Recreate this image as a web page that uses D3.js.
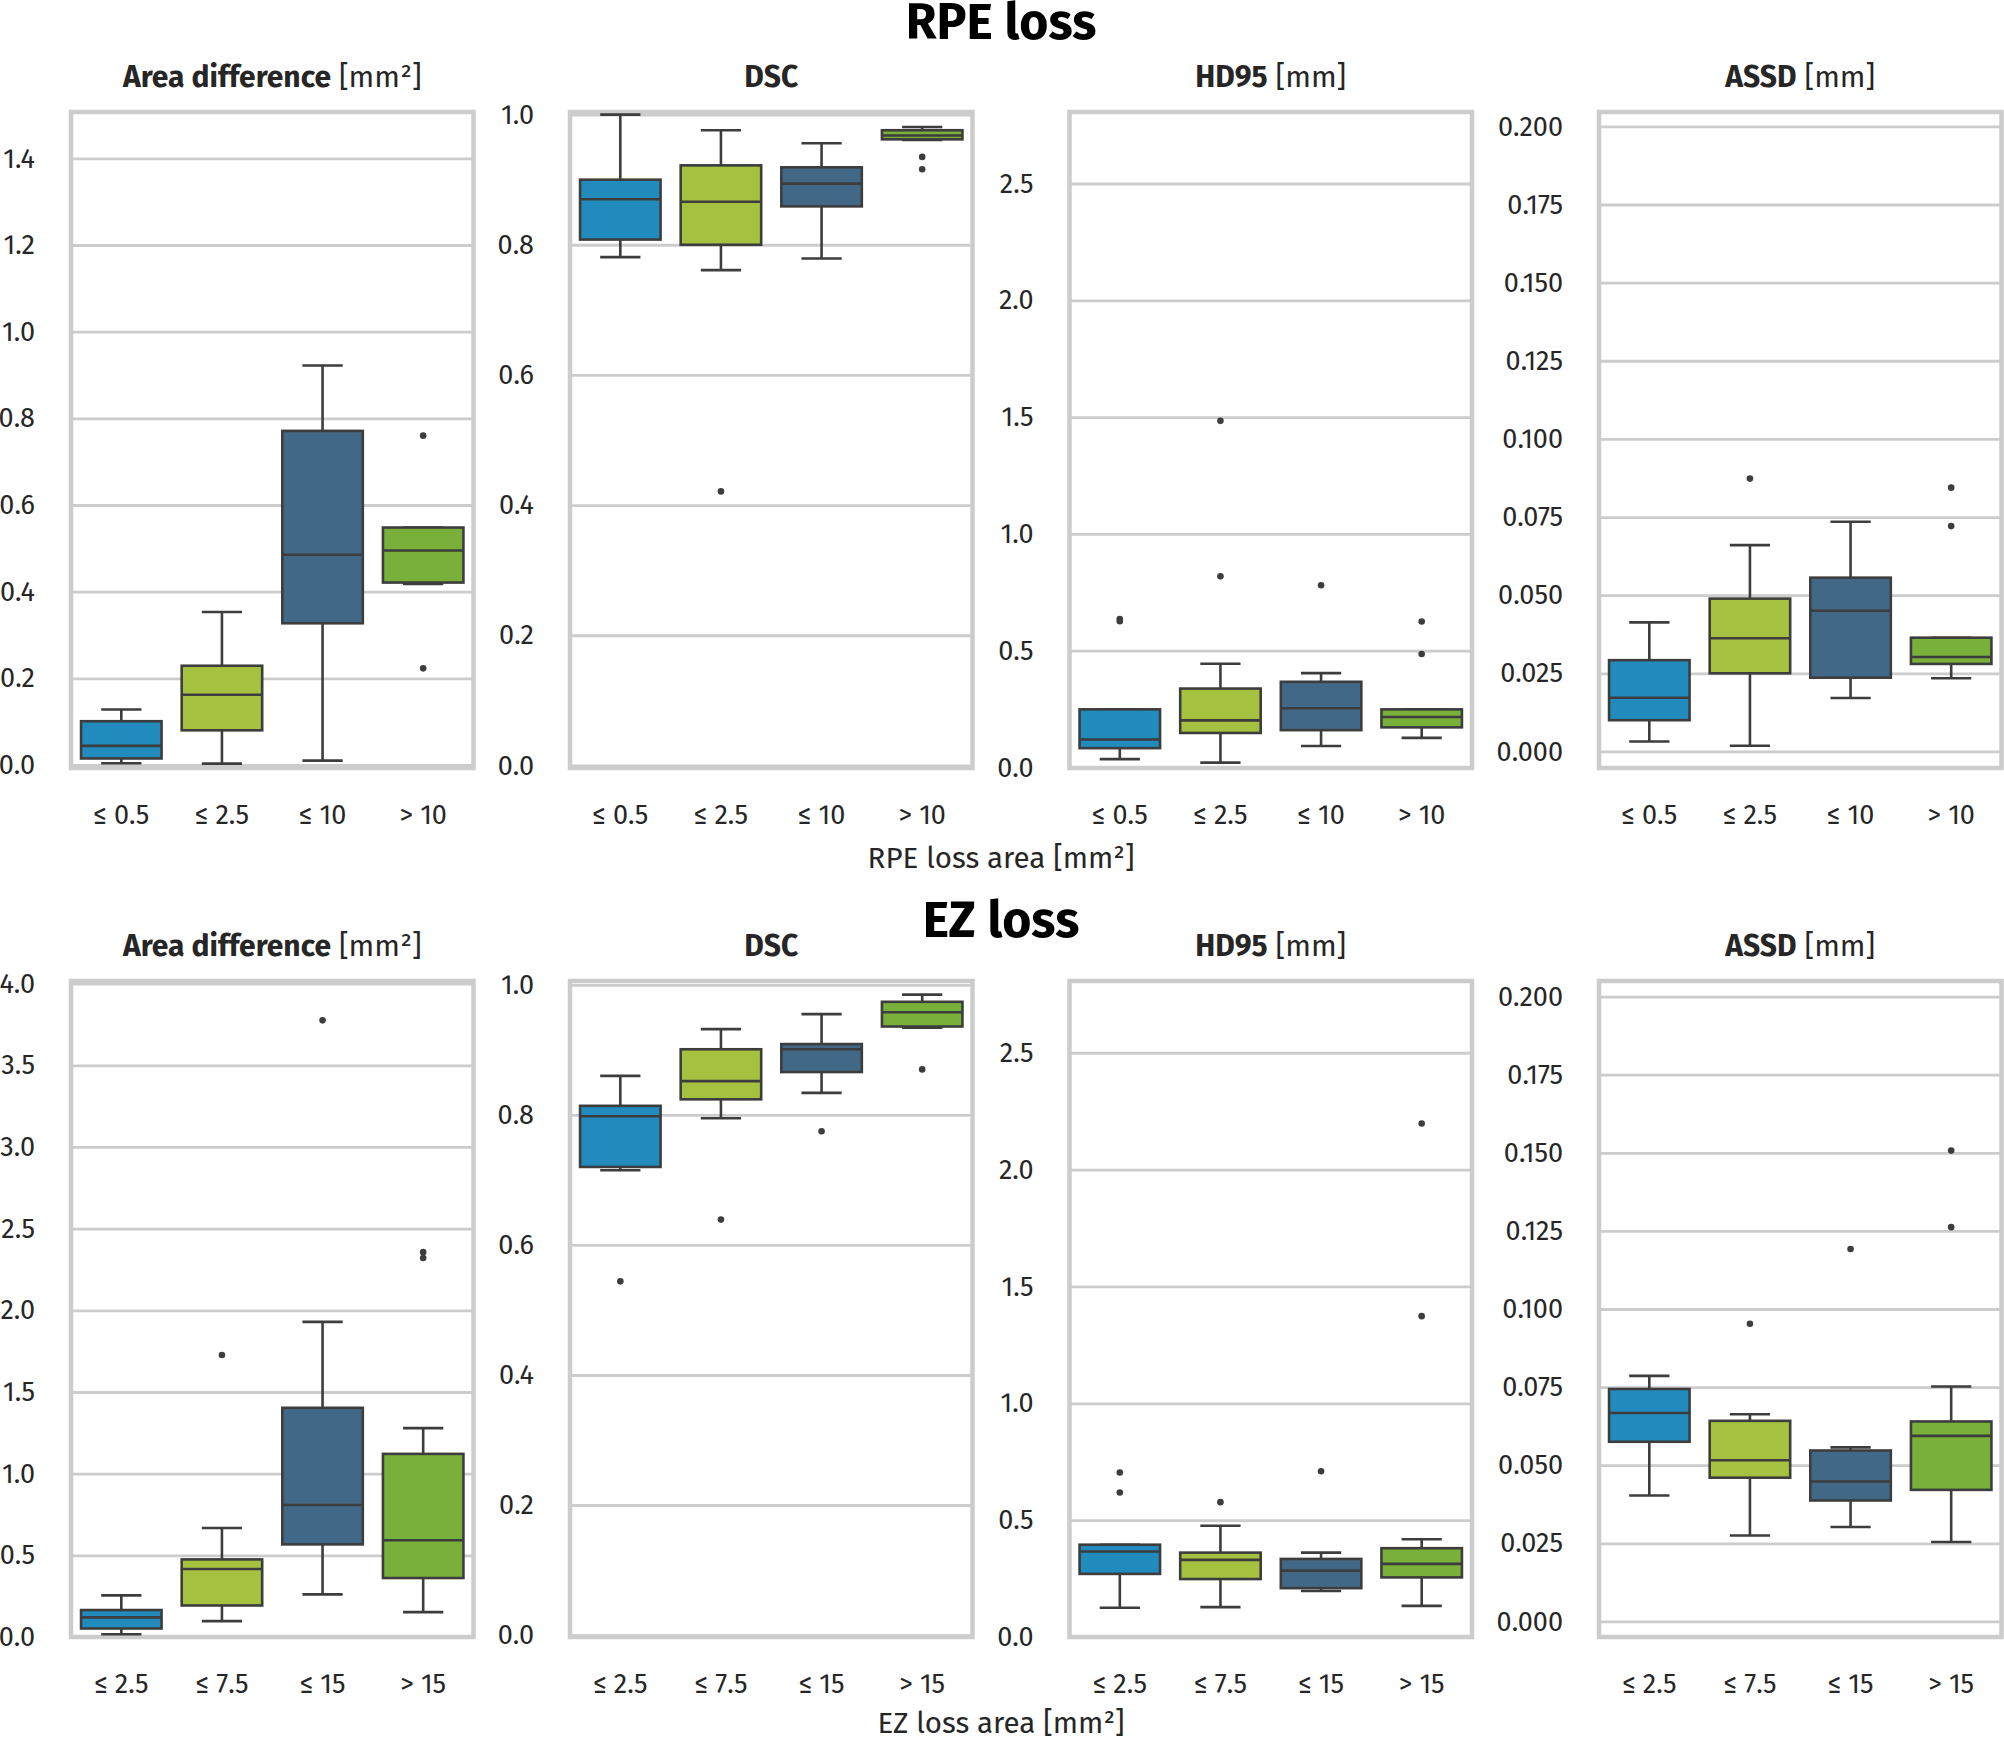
<!DOCTYPE html>
<html>
<head>
<meta charset="utf-8">
<script src="https://cdn.jsdelivr.net/npm/d3@7"></script>
<style>
  body { margin: 0; background: #fff; }
  text { font-family: "Fira Sans", "Lato", "Open Sans", sans-serif; fill: #262626; }
</style>
</head>
<body>
<svg id="chart"></svg>
<script>
// ---- data ----
var rpeGroups = ["≤ 0.5", "≤ 2.5", "≤ 10", "> 10"];
var ezGroups = ["≤ 2.5", "≤ 7.5", "≤ 15", "> 15"];
var rowTitles = ["RPE loss", "EZ loss"];
var rowXLabels = ["RPE loss area [mm²]", "EZ loss area [mm²]"];
var metricBold = ["Area difference", "DSC", "HD95", "ASSD"];
var metricUnit = [" [mm²]", "", " [mm]", " [mm]"];

// boxes: [lower whisker, q1, median, q3, upper whisker]
var rpeArea = [[0.004, 0.015, 0.044, 0.101, 0.128], [0.003, 0.080, 0.162, 0.229, 0.353], [0.010, 0.327, 0.485, 0.771, 0.922], [0.418, 0.421, 0.495, 0.548, 0.548]];
var rpeAreaOut = [[], [], [], [0.760, 0.223]];
var rpeDsc = [[0.781, 0.808, 0.870, 0.900, 1.0], [0.761, 0.800, 0.866, 0.922, 0.976], [0.779, 0.859, 0.894, 0.919, 0.956], [0.961, 0.962, 0.968, 0.976, 0.981]];
var rpeDscOut = [[], [0.421], [], [0.935, 0.916]];
var rpeHd = [[0.036, 0.083, 0.120, 0.249, 0.249], [0.021, 0.148, 0.202, 0.338, 0.444], [0.092, 0.160, 0.254, 0.367, 0.404], [0.127, 0.172, 0.216, 0.249, 0.249]];
var rpeHdOut = [[0.636, 0.626], [1.484, 0.819], [0.780], [0.625, 0.486]];
var rpeAssd = [[0.0032, 0.0100, 0.0172, 0.0292, 0.0413], [0.0018, 0.0250, 0.0362, 0.0489, 0.0660], [0.0171, 0.0236, 0.0450, 0.0556, 0.0735], [0.0234, 0.0280, 0.0302, 0.0364, 0.0364]];
var rpeAssdOut = [[], [0.0873], [], [0.0844, 0.0721]];

var ezArea = [[0.017, 0.052, 0.120, 0.165, 0.255], [0.097, 0.193, 0.416, 0.475, 0.667], [0.261, 0.567, 0.808, 1.403, 1.929], [0.152, 0.361, 0.592, 1.121, 1.279]];
var ezAreaOut = [[], [1.726], [3.775], [2.356, 2.320]];
var ezDsc = [[0.715, 0.720, 0.798, 0.814, 0.860], [0.795, 0.824, 0.852, 0.901, 0.932], [0.834, 0.866, 0.901, 0.909, 0.955], [0.934, 0.936, 0.958, 0.974, 0.985]];
var ezDscOut = [[0.544], [0.639], [0.775], [0.870]];
var ezHd = [[0.125, 0.270, 0.366, 0.395, 0.395], [0.128, 0.248, 0.330, 0.361, 0.476], [0.197, 0.209, 0.284, 0.334, 0.361], [0.133, 0.255, 0.313, 0.380, 0.418]];
var ezHdOut = [[0.704, 0.618], [0.577], [0.709], [2.197, 1.373]];
var ezAssd = [[0.0403, 0.0575, 0.0667, 0.0744, 0.0786], [0.0275, 0.0460, 0.0516, 0.0642, 0.0663], [0.0302, 0.0387, 0.0448, 0.0547, 0.0557], [0.0254, 0.0421, 0.0594, 0.0640, 0.0752]];
var ezAssdOut = [[], [0.0953], [0.1192], [0.1507, 0.1262]];

// axis limits and ticks
var rpeLimits = [[-0.007, 1.507], [-0.004, 1.004], [-0.002, 2.806], [-0.0053, 0.2046]];
var ezLimits = [[0, 4.016], [-0.003, 1.006], [0, 2.807], [-0.005, 0.205]];
var rpeTicks = [[0, 0.2, 0.4, 0.6, 0.8, 1.0, 1.2, 1.4], [0, 0.2, 0.4, 0.6, 0.8, 1.0], [0, 0.5, 1.0, 1.5, 2.0, 2.5], [0, 0.025, 0.05, 0.075, 0.1, 0.125, 0.15, 0.175, 0.2]];
var ezTicks = [[0, 0.5, 1.0, 1.5, 2.0, 2.5, 3.0, 3.5, 4.0], [0, 0.2, 0.4, 0.6, 0.8, 1.0], [0, 0.5, 1.0, 1.5, 2.0, 2.5], [0, 0.025, 0.05, 0.075, 0.1, 0.125, 0.15, 0.175, 0.2]];
var tickFormats = [".1f", ".1f", ".1f", ".3f"];

var boxColors = ["#218bbd", "#a6c140", "#416886", "#78b03a"];

// ---- layout ----
var W = 2004, H = 1741;
var panelLeft = [71, 570, 1069.5, 1599];
var panelW = 402.5;
var rowTop = [112, 981];
var panelH = 656;
var lineCol = "#3d3d3d";
var gridCol = "#cccccc";
var lw = 2.6;

var svg = d3.select("#chart").attr("width", W).attr("height", H);

var rows = [
  { groups: rpeGroups, boxes: [rpeArea, rpeDsc, rpeHd, rpeAssd], outs: [rpeAreaOut, rpeDscOut, rpeHdOut, rpeAssdOut], limits: rpeLimits, ticks: rpeTicks },
  { groups: ezGroups, boxes: [ezArea, ezDsc, ezHd, ezAssd], outs: [ezAreaOut, ezDscOut, ezHdOut, ezAssdOut], limits: ezLimits, ticks: ezTicks }
];

var supBaseline = [39, 937];
var xLabelBaseline = [868, 1733];
var titleBaseline = [87, 956];

rows.forEach(function(row, r) {
  svg.append("text")
    .attr("x", 1001).attr("y", supBaseline[r])
    .attr("text-anchor", "middle")
    .style("font-size", "50px").style("font-weight", "bold").style("fill", "#000")
    .text(rowTitles[r]);

  svg.append("text")
    .attr("x", 1001).attr("y", xLabelBaseline[r])
    .attr("text-anchor", "middle")
    .style("font-size", "29.5px")
    .text(rowXLabels[r]);

  for (var m = 0; m < 4; m++) {
    drawPanel(row, r, m);
  }
});

function drawPanel(row, r, m) {
  var g = svg.append("g").attr("transform", "translate(" + panelLeft[m] + "," + rowTop[r] + ")");

  var x = d3.scaleBand().domain(row.groups).range([0, panelW]).paddingInner(0.2).paddingOuter(0.1);
  var y = d3.scaleLinear().domain(row.limits[m]).range([panelH, 0]);

  // grid + y tick labels
  var yAxis = d3.axisLeft(y).tickValues(row.ticks[m]).tickFormat(d3.format(tickFormats[m]))
    .tickSize(-panelW).tickSizeOuter(0).tickPadding(36);
  var ya = g.append("g").call(yAxis);
  ya.select(".domain").remove();
  ya.selectAll("line").attr("stroke", gridCol).attr("stroke-width", 2.8);
  ya.selectAll("text").style("font-size", "27px").attr("fill", null);
  ya.attr("font-family", null).attr("font-size", null);

  // x tick labels
  var xAxis = d3.axisBottom(x).tickSize(0).tickPadding(37);
  var xa = g.append("g").attr("transform", "translate(0," + panelH + ")").call(xAxis);
  xa.select(".domain").remove();
  xa.selectAll("text").style("font-size", "27px").attr("fill", null);
  xa.attr("font-family", null).attr("font-size", null);

  // frame
  g.append("rect").attr("width", panelW).attr("height", panelH)
    .attr("fill", "none").attr("stroke", gridCol).attr("stroke-width", 4.5);

  // title
  var t = g.append("text").attr("x", panelW / 2).attr("y", titleBaseline[r] - rowTop[r])
    .attr("text-anchor", "middle").style("font-size", "30px");
  t.append("tspan").style("font-weight", "bold").text(metricBold[m]);
  t.append("tspan").text(metricUnit[m]);

  var bw = x.bandwidth();
  var boxes = row.boxes[m];
  var bg = g.selectAll(".box").data(boxes).join("g").attr("class", "box")
    .attr("transform", function(d, i) { return "translate(" + (x(row.groups[i]) + bw / 2) + ",0)"; });

  // whiskers
  bg.append("line").attr("x1", 0).attr("x2", 0)
    .attr("y1", function(d) { return y(d[0]); }).attr("y2", function(d) { return y(d[1]); })
    .attr("stroke", lineCol).attr("stroke-width", lw);
  bg.append("line").attr("x1", 0).attr("x2", 0)
    .attr("y1", function(d) { return y(d[3]); }).attr("y2", function(d) { return y(d[4]); })
    .attr("stroke", lineCol).attr("stroke-width", lw);
  // caps
  [0, 4].forEach(function(k) {
    bg.append("line").attr("x1", -bw / 4).attr("x2", bw / 4)
      .attr("y1", function(d) { return y(d[k]); }).attr("y2", function(d) { return y(d[k]); })
      .attr("stroke", lineCol).attr("stroke-width", lw);
  });
  // box
  bg.append("rect").attr("x", -bw / 2).attr("width", bw)
    .attr("y", function(d) { return y(d[3]); })
    .attr("height", function(d) { return y(d[1]) - y(d[3]); })
    .attr("fill", function(d, i) { return boxColors[i]; })
    .attr("stroke", lineCol).attr("stroke-width", lw);
  // median
  bg.append("line").attr("x1", -bw / 2).attr("x2", bw / 2)
    .attr("y1", function(d) { return y(d[2]); }).attr("y2", function(d) { return y(d[2]); })
    .attr("stroke", lineCol).attr("stroke-width", lw);

  // outliers
  bg.each(function(d, i) {
    d3.select(this).selectAll("circle").data(row.outs[m][i]).join("circle")
      .attr("cx", 0).attr("cy", function(v) { return y(v); }).attr("r", 3.3)
      .attr("fill", lineCol);
  });
}
</script>
</body>
</html>
